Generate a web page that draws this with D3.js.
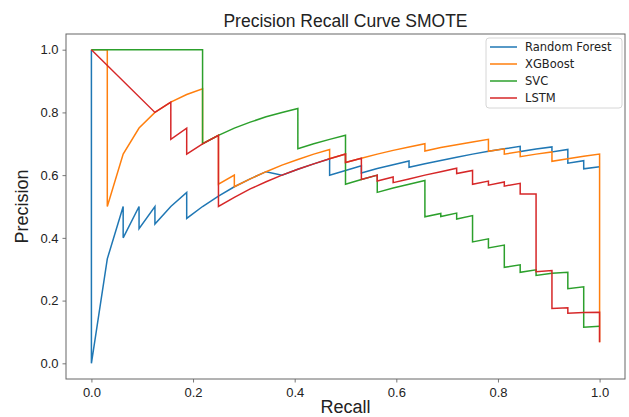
<!DOCTYPE html>
<html>
<head>
<meta charset="utf-8">
<script src="https://cdn.jsdelivr.net/npm/d3@7"></script>
<style>
    body { margin: 0; background: white; }
    text { font-family: "Liberation Sans", Arial, sans-serif; fill: #222; }
    .legend text { font-family: "DejaVu Sans", sans-serif; }
</style>
</head>
<body>
<svg id="chart"></svg>
<script>
var width = 629, height = 417

// recall / precision pairs
var randomForest = [
    [0, 1], [0, 0], [0.03125, 0.333], [0.0625, 0.5], [0.0625, 0.4], [0.09375, 0.5], [0.09375, 0.429],
    [0.125, 0.5], [0.125, 0.444], [0.15625, 0.5], [0.1875, 0.545], [0.1875, 0.462], [0.21875, 0.5],
    [0.25, 0.533], [0.28125, 0.563], [0.3125, 0.588], [0.34375, 0.611], [0.375, 0.6], [0.40625, 0.619],
    [0.4375, 0.636], [0.46875, 0.652], [0.46875, 0.6], [0.5, 0.615], [0.53125, 0.63], [0.53125, 0.607],
    [0.5625, 0.621], [0.59375, 0.633], [0.625, 0.645], [0.625, 0.625], [0.65625, 0.636], [0.6875, 0.647],
    [0.71875, 0.657], [0.75, 0.667], [0.78125, 0.676], [0.8125, 0.684], [0.84375, 0.692], [0.84375, 0.675],
    [0.875, 0.683], [0.90625, 0.69], [0.90625, 0.674], [0.9375, 0.682], [0.9375, 0.638], [0.96875, 0.646],
    [0.96875, 0.62], [1, 0.627]
]
var xgboost = [
    [0, 1], [0.03125, 1], [0.03125, 0.5], [0.0625, 0.667], [0.09375, 0.75], [0.125, 0.8], [0.15625, 0.833],
    [0.1875, 0.857], [0.21875, 0.875], [0.21875, 0.7], [0.25, 0.727], [0.25, 0.571], [0.28125, 0.6],
    [0.28125, 0.563], [0.3125, 0.588], [0.34375, 0.611], [0.375, 0.632], [0.40625, 0.65], [0.4375, 0.667],
    [0.46875, 0.682], [0.46875, 0.652], [0.5, 0.667], [0.5, 0.64], [0.53125, 0.654], [0.5625, 0.667],
    [0.59375, 0.679], [0.625, 0.69], [0.65625, 0.7], [0.65625, 0.677], [0.6875, 0.688], [0.71875, 0.697],
    [0.75, 0.706], [0.78125, 0.714], [0.78125, 0.676], [0.8125, 0.684], [0.8125, 0.667], [0.84375, 0.675],
    [0.84375, 0.659], [0.875, 0.667], [0.90625, 0.674], [0.90625, 0.644], [0.9375, 0.652], [0.96875, 0.66],
    [1, 0.667], [1, 0.067]
]
var svc = [
    [0, 1], [0.21875, 1], [0.21875, 0.7], [0.25, 0.727], [0.28125, 0.75], [0.3125, 0.769], [0.34375, 0.786],
    [0.375, 0.8], [0.40625, 0.8125], [0.40625, 0.684], [0.4375, 0.7], [0.46875, 0.714], [0.5, 0.727],
    [0.5, 0.571], [0.53125, 0.586], [0.5625, 0.6], [0.5625, 0.545], [0.59375, 0.559], [0.625, 0.571],
    [0.65625, 0.583], [0.65625, 0.467], [0.6875, 0.478], [0.6875, 0.468], [0.71875, 0.479], [0.71875, 0.46],
    [0.75, 0.471], [0.75, 0.387], [0.78125, 0.397], [0.78125, 0.368], [0.8125, 0.377], [0.8125, 0.306],
    [0.84375, 0.314], [0.84375, 0.29], [0.875, 0.298], [0.875, 0.28], [0.90625, 0.287], [0.9375, 0.29],
    [0.9375, 0.238], [0.96875, 0.244], [0.96875, 0.115], [1, 0.118]
]
var lstm = [
    [0, 1], [0.125, 0.8], [0.15625, 0.833], [0.15625, 0.714], [0.1875, 0.75], [0.1875, 0.667], [0.21875, 0.7],
    [0.25, 0.727], [0.25, 0.5], [0.28125, 0.529], [0.3125, 0.556], [0.34375, 0.579], [0.375, 0.6],
    [0.40625, 0.619], [0.4375, 0.636], [0.46875, 0.652], [0.5, 0.667], [0.5, 0.64], [0.53125, 0.654],
    [0.53125, 0.586], [0.5625, 0.6], [0.5625, 0.581], [0.59375, 0.594], [0.59375, 0.576], [0.625, 0.588],
    [0.65625, 0.6], [0.6875, 0.611], [0.71875, 0.622], [0.71875, 0.605], [0.75, 0.615], [0.75, 0.571],
    [0.78125, 0.581], [0.78125, 0.568], [0.8125, 0.578], [0.8125, 0.565], [0.84375, 0.574], [0.84375, 0.54],
    [0.875, 0.54], [0.875, 0.292], [0.90625, 0.296], [0.90625, 0.175], [0.9375, 0.177], [0.9375, 0.16],
    [0.96875, 0.162], [1, 0.163], [1, 0.067]
]

var names = ["Random Forest", "XGBoost", "SVC", "LSTM"]
var colors = ["#1f77b4", "#ff7f0e", "#2ca02c", "#d62728"]
var curves = [randomForest, xgboost, svc, lstm]
var tickValues = [0, 0.2, 0.4, 0.6, 0.8, 1.0]

var margin = {top: 34, right: 4, bottom: 38, left: 66}
var innerW = width - margin.left - margin.right,
    innerH = height - margin.top - margin.bottom

var svg = d3.select("#chart")
    .attr("width", width)
    .attr("height", height)

var x = d3.scaleLinear().domain([-0.05, 1.05]).range([0, innerW])
var y = d3.scaleLinear().domain([-0.05, 1.05]).range([innerH, 0])

var g = svg.append("g")
    .attr("transform", "translate(" + margin.left + "," + margin.top + ")")

var line = d3.line()
    .x(function(d) { return x(d[0]) })
    .y(function(d) { return y(d[1]) })

g.append("defs").append("clipPath")
    .attr("id", "plot-clip")
    .append("rect")
        .attr("width", innerW)
        .attr("height", innerH)

g.append("g")
    .attr("clip-path", "url(#plot-clip)")
    .selectAll("path")
    .data(curves)
    .enter()
    .append("path")
        .attr("d", line)
        .attr("fill", "none")
        .attr("stroke", function(d, i) { return colors[i] })
        .attr("stroke-width", 1.5)
        .attr("stroke-linejoin", "miter")

// axes
var xAxis = g.append("g")
    .attr("transform", "translate(0," + innerH + ")")
    .call(d3.axisBottom(x).tickValues(tickValues).tickFormat(d3.format(".1f")).tickSize(3.5).tickPadding(5))
var yAxis = g.append("g")
    .call(d3.axisLeft(y).tickValues(tickValues).tickFormat(d3.format(".1f")).tickSize(3.5).tickPadding(4))

;[xAxis, yAxis].forEach(function(a) {
    a.select(".domain").remove()
    a.selectAll(".tick line").attr("stroke", "#555").attr("stroke-width", 0.8)
    a.selectAll(".tick text")
        .style("font-family", "'Liberation Sans', Arial, sans-serif")
        .style("font-size", "13px")
        .attr("fill", "#222")
})

g.append("rect")
    .attr("width", innerW)
    .attr("height", innerH)
    .attr("fill", "none")
    .attr("stroke", "#666")
    .attr("stroke-width", 1)

// title and labels
svg.append("text")
    .attr("x", margin.left + innerW / 2)
    .attr("y", 26.5)
    .attr("text-anchor", "middle")
    .style("font-size", "17.5px")
    .text("Precision Recall Curve SMOTE")

svg.append("text")
    .attr("x", margin.left + innerW / 2)
    .attr("y", 413)
    .attr("text-anchor", "middle")
    .style("font-size", "18px")
    .text("Recall")

svg.append("text")
    .attr("transform", "translate(28," + (margin.top + innerH / 2) + ") rotate(-90)")
    .attr("text-anchor", "middle")
    .style("font-size", "18px")
    .text("Precision")

// legend
var legend = svg.append("g")
    .attr("class", "legend")
    .attr("transform", "translate(486,38)")
legend.append("rect")
    .attr("width", 136)
    .attr("height", 70)
    .attr("rx", 3)
    .attr("fill", "white")
    .attr("fill-opacity", 0.8)
    .attr("stroke", "#d6d6d6")

var items = legend.selectAll(".item")
    .data(names)
    .enter()
    .append("g")
        .attr("class", "item")
        .attr("transform", function(d, i) { return "translate(0," + (9 + i * 17) + ")" })
items.append("line")
    .attr("x1", 4)
    .attr("x2", 31)
    .attr("stroke", function(d, i) { return colors[i] })
    .attr("stroke-width", 1.5)
items.append("text")
    .attr("x", 39)
    .attr("dy", "0.35em")
    .style("font-size", "11.5px")
    .text(function(d) { return d })
</script>
</body>
</html>
